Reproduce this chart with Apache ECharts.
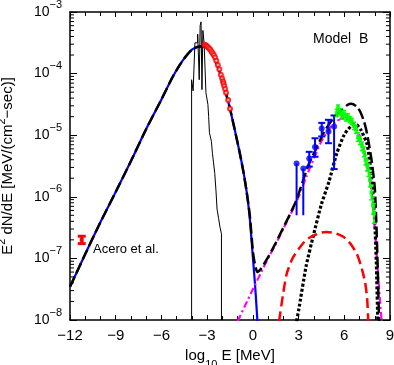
<!DOCTYPE html>
<html>
<head>
<meta charset="utf-8">
<script src="https://cdn.jsdelivr.net/npm/echarts@6/dist/echarts.min.js"></script>
<style>
html, body { margin: 0; padding: 0; background: #fff; }
#chart { width: 394px; height: 365px; }
</style>
</head>
<body>
<div id="chart"></div>
<script>
// values; y values are log10 of E^2 dN/dE
var syncX = [-12, -11, -10, -9, -8, -7, -6, -5.3, -4.8, -4.4, -4, -3.6, -3.3, -3, -2.6, -2.2, -1.83, -1.5, -1.2, -0.9, -0.63, -0.4, -0.2, 0, 0.15, 0.3];
var syncY = [-7.46, -6.93, -6.41, -5.92, -5.42, -4.90, -4.42, -4.07, -3.86, -3.72, -3.61, -3.565, -3.555, -3.58, -3.70, -3.96, -4.26, -4.57, -4.90, -5.24, -5.58, -5.93, -6.35, -6.98, -7.45, -8.02];

var totalX = [-12, -11, -10, -9, -8, -7, -6, -5.3, -4.8, -4.4, -4, -3.6, -3.3, -3, -2.6, -2.2, -1.83, -1.5, -1.2, -0.9, -0.63, -0.4,
  -0.2, 0, 0.15, 0.3, 0.5, 1, 1.5, 2, 2.5, 2.87, 3.3, 3.7, 4.2, 4.6, 5.06, 5.5, 5.85, 6.2, 6.45, 6.8, 7.05, 7.3, 7.5, 7.8, 8.0, 8.1, 8.2, 8.28];
var totalY = [-7.46, -6.93, -6.41, -5.92, -5.42, -4.90, -4.42, -4.07, -3.86, -3.72, -3.61, -3.565, -3.555, -3.58, -3.70, -3.96, -4.26, -4.57, -4.90, -5.24, -5.58, -5.93,
  -6.3, -6.88, -7.12, -7.22, -7.18, -6.98, -6.75, -6.5, -6.25, -6.05, -5.73, -5.45, -5.2, -4.98, -4.8, -4.66, -4.58, -4.51, -4.49, -4.53, -4.62, -4.78, -4.98, -5.42, -5.85, -6.4, -7.2, -8.02];

var icX = [-1, -0.5, 0, 0.5, 1, 1.5, 2, 2.5, 3, 3.5, 4, 4.5, 5, 5.5, 6, 6.5, 7, 7.5, 7.8, 8.0, 8.2, 8.35, 8.45];
var icY = [-8.02, -7.76, -7.5, -7.25, -7.0, -6.77, -6.52, -6.27, -6.0, -5.68, -5.38, -5.1, -4.9, -4.77, -4.72, -4.78, -5.0, -5.45, -5.95, -6.5, -7.2, -7.7, -8.02];

var pionX = [2.87, 3.0, 3.5, 4.0, 4.5, 5.0, 5.5, 6.0, 6.5, 6.8, 7.1, 7.5, 7.8, 8.0, 8.1, 8.2];
var pionY = [-8.02, -7.85, -7.12, -6.6, -6.12, -5.75, -5.3, -4.99, -4.84, -4.83, -4.92, -5.15, -5.7, -6.4, -7.05, -8.02];

var brX = [1.72, 2.0, 2.22, 2.6, 3.09, 3.5, 3.97, 4.5, 4.84, 5.4, 5.94, 6.4, 6.81, 7.1, 7.36, 7.5, 7.57];
var brY = [-8.02, -7.55, -7.25, -7.0, -6.82, -6.7, -6.63, -6.58, -6.57, -6.59, -6.65, -6.76, -6.92, -7.12, -7.38, -7.65, -8.02];

var histX = [-4.02, -4.02, -3.92, -3.92, -3.80, -3.80, -3.62, -3.62, -3.52, -3.52, -3.46, -3.46, -3.40, -3.40, -3.34, -3.34, -3.28, -3.28, -3.20, -3.20, -3.08, -3.08, -3.00, -2.95, -2.90, -2.85, -2.78, -2.72, -2.65, -2.58, -2.50, -2.42, -2.35, -2.25, -2.15, -2.06, -2.06];
var histY = [-8, -4.10, -4.10, -4.28, -4.28, -3.50, -3.50, -3.36, -3.36, -4.10, -4.10, -3.22, -3.22, -3.16, -3.16, -4.26, -4.26, -3.30, -3.30, -3.50, -3.50, -4.31, -4.31, -4.5, -4.7, -4.96, -4.96, -5.1, -5.3, -5.45, -5.62, -5.9, -6.2, -6.35, -6.5, -6.6, -8];

var xrayX = [-3.17, -3.10, -3.03, -2.96, -2.88, -2.80, -2.72, -2.64, -2.56, -2.48, -2.40, -2.30, -2.20, -2.10, -2.02, -1.96, -1.92, -1.88, -1.82, -1.76, -1.62, -1.50];
var xrayY = [-3.53, -3.54, -3.55, -3.57, -3.59, -3.61, -3.64, -3.67, -3.70, -3.74, -3.79, -3.86, -3.93, -4.02, -4.08, -4.13, -4.16, -4.20, -4.25, -4.31, -4.43, -4.57];

var latX = [2.87, 3.31, 3.70, 4.08, 4.52, 4.96, 5.33];
var latY = [-5.46, -5.54, -5.38, -5.19, -4.89, -4.94, -4.86];
var latLo = [-6.30, -6.30, -5.51, -5.35, -5.02, -5.13, -5.55];
var latHi = [-5.46, -5.54, -5.27, -5.05, -4.80, -4.75, -4.68];

var hessX = [5.50, 5.59, 5.72, 5.85, 5.98, 6.11, 6.24, 6.37, 6.50, 6.64, 6.77, 6.90, 7.03, 7.16, 7.29, 7.39, 7.49, 7.59, 7.69, 7.78, 7.88, 7.95];
var hessY = [-4.64, -4.56, -4.62, -4.69, -4.65, -4.72, -4.70, -4.75, -4.78, -4.85, -4.91, -5.03, -5.08, -5.18, -5.27, -5.40, -5.49, -5.57, -5.73, -5.93, -6.14, -6.27];
var hessErr = [0.06, 0.05, 0.05, 0.05, 0.05, 0.05, 0.05, 0.05, 0.05, 0.06, 0.06, 0.07, 0.07, 0.07, 0.08, 0.08, 0.09, 0.10, 0.11, 0.12, 0.14, 0.16];

var aceroX = [-11.23];
var aceroY = [-6.70];
var aceroLo = [-6.76];
var aceroHi = [-6.64];

var FONT = 'Liberation Sans';

function pts(xs, ys) {
  return xs.map(function (x, i) { return [x, Math.pow(10, ys[i])]; });
}
function bars(xs, ys, los, his) {
  return xs.map(function (x, i) { return [x, Math.pow(10, ys[i]), Math.pow(10, los[i]), Math.pow(10, his[i])]; });
}

function errRender(color, width, cap) {
  return function (params, api) {
    var x = api.value(0);
    var y = api.value(1);
    var lo = api.coord([x, api.value(2)]);
    var hi = api.coord([x, api.value(3)]);
    var kids = [{ type: 'line', shape: { x1: lo[0], y1: lo[1], x2: hi[0], y2: hi[1] }, style: { stroke: color, lineWidth: width } }];
    if (api.value(3) > y && api.value(2) < y) {
      kids.push({ type: 'line', shape: { x1: lo[0] - cap, y1: lo[1], x2: lo[0] + cap, y2: lo[1] }, style: { stroke: color, lineWidth: width } });
      kids.push({ type: 'line', shape: { x1: hi[0] - cap, y1: hi[1], x2: hi[0] + cap, y2: hi[1] }, style: { stroke: color, lineWidth: width } });
    }
    return { type: 'group', children: kids };
  };
}

// minor ticks of the log axis, at 2..9 of every decade
var minorY = [];
for (var e = -8; e < -3; e++) {
  for (var m = 2; m < 10; m++) minorY.push([-12, m * Math.pow(10, e)]);
}

var chart = echarts.init(document.getElementById('chart'));

chart.setOption({
  animation: false,
  backgroundColor: '#fff',
  grid: { left: 70, right: 4, top: 12, bottom: 45, outerBoundsMode: 'none' },
  xAxis: [
    {
      type: 'value', min: -12, max: 9, interval: 3,
      name: '{n|log}{sub|10}{n| E [MeV]}', nameLocation: 'middle', nameGap: 16,
      nameTextStyle: {
        rich: {
          n: { fontSize: 15, fontFamily: FONT, color: '#000', lineHeight: 30 },
          sub: { fontSize: 11, fontFamily: FONT, color: '#000', verticalAlign: 'bottom', lineHeight: 11 }
        }
      },
      axisLine: { onZero: false, lineStyle: { color: '#000', width: 1.5 } },
      axisTick: { inside: true, length: 5, lineStyle: { color: '#000' } },
      minorTick: { show: true, splitNumber: 3, length: 4, lineStyle: { color: '#000' } },
      splitLine: { show: false },
      axisLabel: {
        margin: 8, fontSize: 15, color: '#000', fontFamily: FONT,
        formatter: function (v) { return String(v).replace('-', '\u2212'); }
      }
    },
    {
      type: 'value', min: -12, max: 9, interval: 3, position: 'top',
      axisLine: { onZero: false, lineStyle: { color: '#000', width: 1.5 } },
      axisTick: { inside: true, length: 5, lineStyle: { color: '#000' } },
      minorTick: { show: true, splitNumber: 3, length: 4, lineStyle: { color: '#000' } },
      splitLine: { show: false },
      axisLabel: { show: false }
    }
  ],
  yAxis: [
    {
      type: 'log', logBase: 10, min: 1e-8, max: 1e-3,
      name: '{n|E}{s|2}{n| dN/dE [MeV/(cm}{s|2}{n|\u2212sec)]}',
      nameLocation: 'middle', nameGap: 50, nameRotate: 90,
      nameTextStyle: {
        rich: {
          n: { fontSize: 15, fontFamily: FONT, color: '#000', lineHeight: 24 },
          s: { fontSize: 11, fontFamily: FONT, color: '#000', verticalAlign: 'top', lineHeight: 11 }
        }
      },
      axisLine: { onZero: false, lineStyle: { color: '#000', width: 1.5 } },
      axisTick: { inside: true, length: 7, lineStyle: { color: '#000' } },
      splitLine: { show: false },
      axisLabel: {
        margin: 8,
        formatter: function (v) {
          var p = Math.round(Math.log10(v));
          return '{b|10}{s|' + (p < 0 ? '\u2212' : '') + Math.abs(p) + '}';
        },
        rich: {
          b: { fontSize: 14, fontFamily: FONT, color: '#000', lineHeight: 26 },
          s: { fontSize: 11, fontFamily: FONT, color: '#000', verticalAlign: 'top', lineHeight: 11 }
        }
      }
    },
    {
      type: 'log', logBase: 10, min: 1e-8, max: 1e-3, position: 'right',
      axisLine: { onZero: false, lineStyle: { color: '#000', width: 1.5 } },
      axisTick: { inside: true, length: 7, lineStyle: { color: '#000' } },
      splitLine: { show: false },
      axisLabel: { show: false }
    }
  ],
  graphic: [
    { type: 'text', left: 313, top: 32, style: { text: 'Model  B', font: '14px "Liberation Sans"', fill: '#000' } },
    { type: 'text', left: 93, top: 243, style: { text: 'Acero et al.', font: '13px "Liberation Sans"', fill: '#000' } }
  ],
  series: [
    {
      type: 'custom', name: 'minor ticks', silent: true,
      data: minorY, encode: { x: 0, y: 1 },
      renderItem: function (params, api) {
        var p = api.coord([-12, api.value(1)]);
        var q = api.coord([9, api.value(1)]);
        return {
          type: 'group', children: [
            { type: 'line', shape: { x1: p[0], y1: p[1], x2: p[0] + 4, y2: p[1] }, style: { stroke: '#000', lineWidth: 1 } },
            { type: 'line', shape: { x1: q[0], y1: q[1], x2: q[0] - 4, y2: q[1] }, style: { stroke: '#000', lineWidth: 1 } }
          ]
        };
      }
    },
    {
      type: 'line', name: 'X-ray spectrum', data: pts(histX, histY), showSymbol: false,
      lineStyle: { color: '#000', width: 1 }, z: 2
    },
    {
      type: 'line', name: 'synchrotron', data: pts(syncX, syncY), showSymbol: false,
      smooth: 0.2,
      lineStyle: { color: '#0000ff', width: 2.2 }, z: 3
    },
    {
      type: 'line', name: 'IC', data: pts(icX, icY), showSymbol: false,
      smooth: 0.2,
      lineStyle: { color: '#ff00ff', width: 2.2, type: [7, 3, 2, 3] }, z: 4
    },
    {
      type: 'line', name: 'total', data: pts(totalX, totalY), showSymbol: false,
      smooth: 0.2,
      lineStyle: { color: '#000', width: 2.5, type: [11, 4] }, z: 5
    },
    {
      type: 'line', name: 'pion decay', data: pts(pionX, pionY), showSymbol: false,
      smooth: 0.2,
      lineStyle: { color: '#000', width: 3.2, type: [3, 2] }, z: 5
    },
    {
      type: 'line', name: 'bremsstrahlung', data: pts(brX, brY), showSymbol: false,
      smooth: 0.2,
      lineStyle: { color: '#ff0000', width: 2.5, type: [10, 5] }, z: 5
    },
    {
      type: 'scatter', name: 'X-ray data', data: pts(xrayX, xrayY),
      symbol: 'emptyCircle', symbolSize: 4,
      itemStyle: { color: '#ff0000', borderColor: '#ff0000', borderWidth: 1 }, z: 6
    },
    {
      type: 'custom', name: 'GeV errors', data: bars(latX, latY, latLo, latHi), encode: { x: 0, y: [2, 3] },
      renderItem: errRender('#0000ff', 2, 3.5), z: 7
    },
    {
      type: 'scatter', name: 'GeV data', data: pts(latX, latY),
      symbol: 'circle', symbolSize: 6, itemStyle: { color: '#0000ff' }, z: 7
    },
    {
      type: 'custom', name: 'TeV errors',
      data: bars(hessX, hessY, hessY.map(function (v, i) { return v - hessErr[i]; }), hessY.map(function (v, i) { return v + hessErr[i]; })),
      encode: { x: 0, y: [2, 3] },
      renderItem: errRender('#00ff00', 1.5, 2), z: 7
    },
    {
      type: 'scatter', name: 'TeV data', data: pts(hessX, hessY),
      symbol: 'rect', symbolSize: 4, itemStyle: { color: '#00ff00' }, z: 7
    },
    {
      type: 'custom', name: 'Acero errors', data: bars(aceroX, aceroY, aceroLo, aceroHi), encode: { x: 0, y: [2, 3] },
      renderItem: errRender('#ff0000', 3, 4), z: 7
    },
    {
      type: 'scatter', name: 'Acero', data: pts(aceroX, aceroY),
      symbol: 'rect', symbolSize: 4, itemStyle: { color: '#ff0000' }, z: 7
    }
  ]
});
</script>
</body>
</html>
